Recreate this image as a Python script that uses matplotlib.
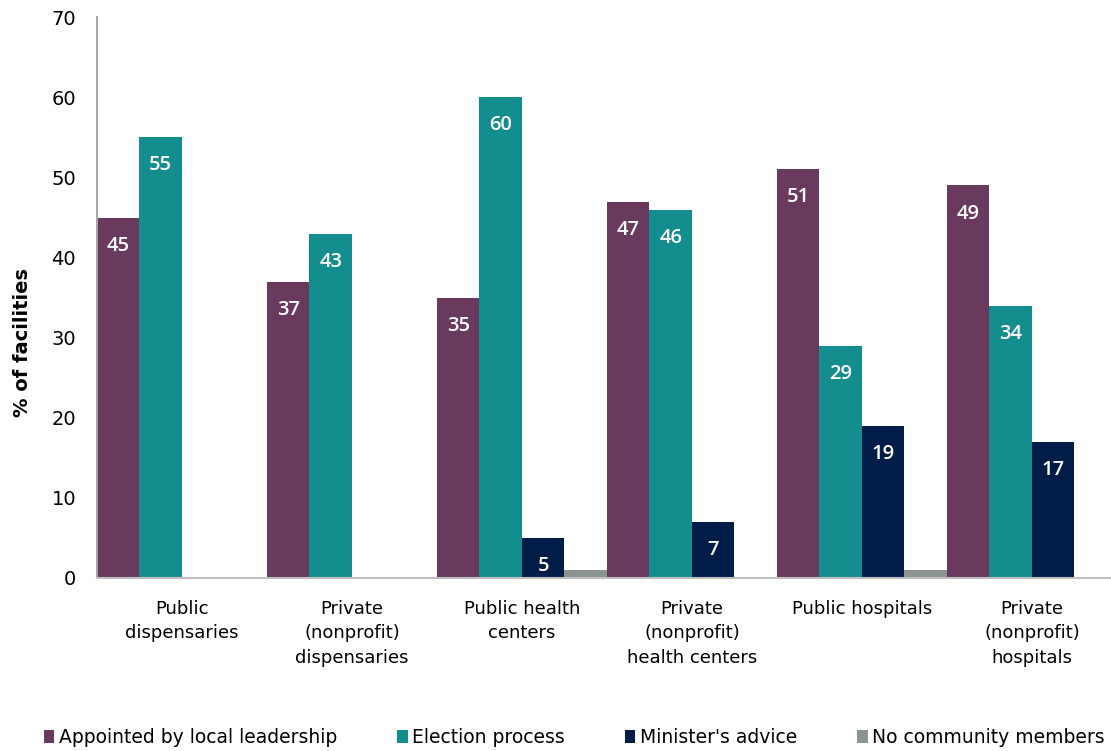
import numpy as np
import matplotlib.pyplot as plt

plt.rcParams['font.family'] = ['DejaVu Sans']

# categories and series
categories = ['Public\ndispensaries', 'Private\n(nonprofit)\ndispensaries',
              'Public health\ncenters', 'Private\n(nonprofit)\nhealth centers',
              'Public hospitals', 'Private\n(nonprofit)\nhospitals']
series_names = ['Appointed by local leadership', 'Election process',
                "Minister's advice", 'No community members']
appointed = [45, 37, 35, 47, 51, 49]
election = [55, 43, 60, 46, 29, 34]
minister = [0, 0, 5, 7, 19, 17]
no_members = [0, 0, 1, 0, 1, 0]
colors = ['#693a5e', '#148d8f', '#001d48', '#8b9491']

fig = plt.figure(figsize=(11.11, 7.51), dpi=100)
ax = fig.add_axes([0.0873, 0.2304, 0.9127, 0.7466])

x = np.arange(len(categories))
w = 0.25
all_series = [appointed, election, minister, no_members]
for i, (vals, name, col) in enumerate(zip(all_series, series_names, colors)):
    pos = x + (i - 1.5) * w
    ax.bar(pos, vals, width=w, color=col, label=name, edgecolor='none')
    if i < 3:
        for xp, v in zip(pos, vals):
            if v > 0:
                ax.text(xp, v - 3.5, str(v), ha='center', va='center',
                        color='white', fontsize=14.5, fontweight='semibold',
                        family=['Open Sans', 'DejaVu Sans'])

ax.set_xlim(-0.5, 5.465)
ax.set_ylim(0, 70)
ax.set_yticks(range(0, 71, 10))
ax.set_xticks(x)
ax.set_xticklabels(categories, fontsize=13, linespacing=1.45)
ax.tick_params(axis='both', length=0)
ax.tick_params(axis='y', labelsize=14, pad=15)
ax.tick_params(axis='x', pad=16)
ax.set_ylabel('% of facilities', fontsize=14, fontweight='bold')
ax.yaxis.set_label_coords(-0.064, 0.42)

for s in ['top', 'right']:
    ax.spines[s].set_visible(False)
ax.spines['left'].set_color('#a6a6a6')
ax.spines['bottom'].set_color('#bfbfbf')
ax.spines['left'].set_linewidth(1.5)
ax.spines['bottom'].set_linewidth(1.5)

fig.legend(loc='center', bbox_to_anchor=(0.517, 0.018), ncol=4, frameon=False,
           fontsize=13.5, handlelength=0.55, handleheight=0.65, handletextpad=0.25,
           columnspacing=3.2)

fig.savefig('out.png', dpi=100)
